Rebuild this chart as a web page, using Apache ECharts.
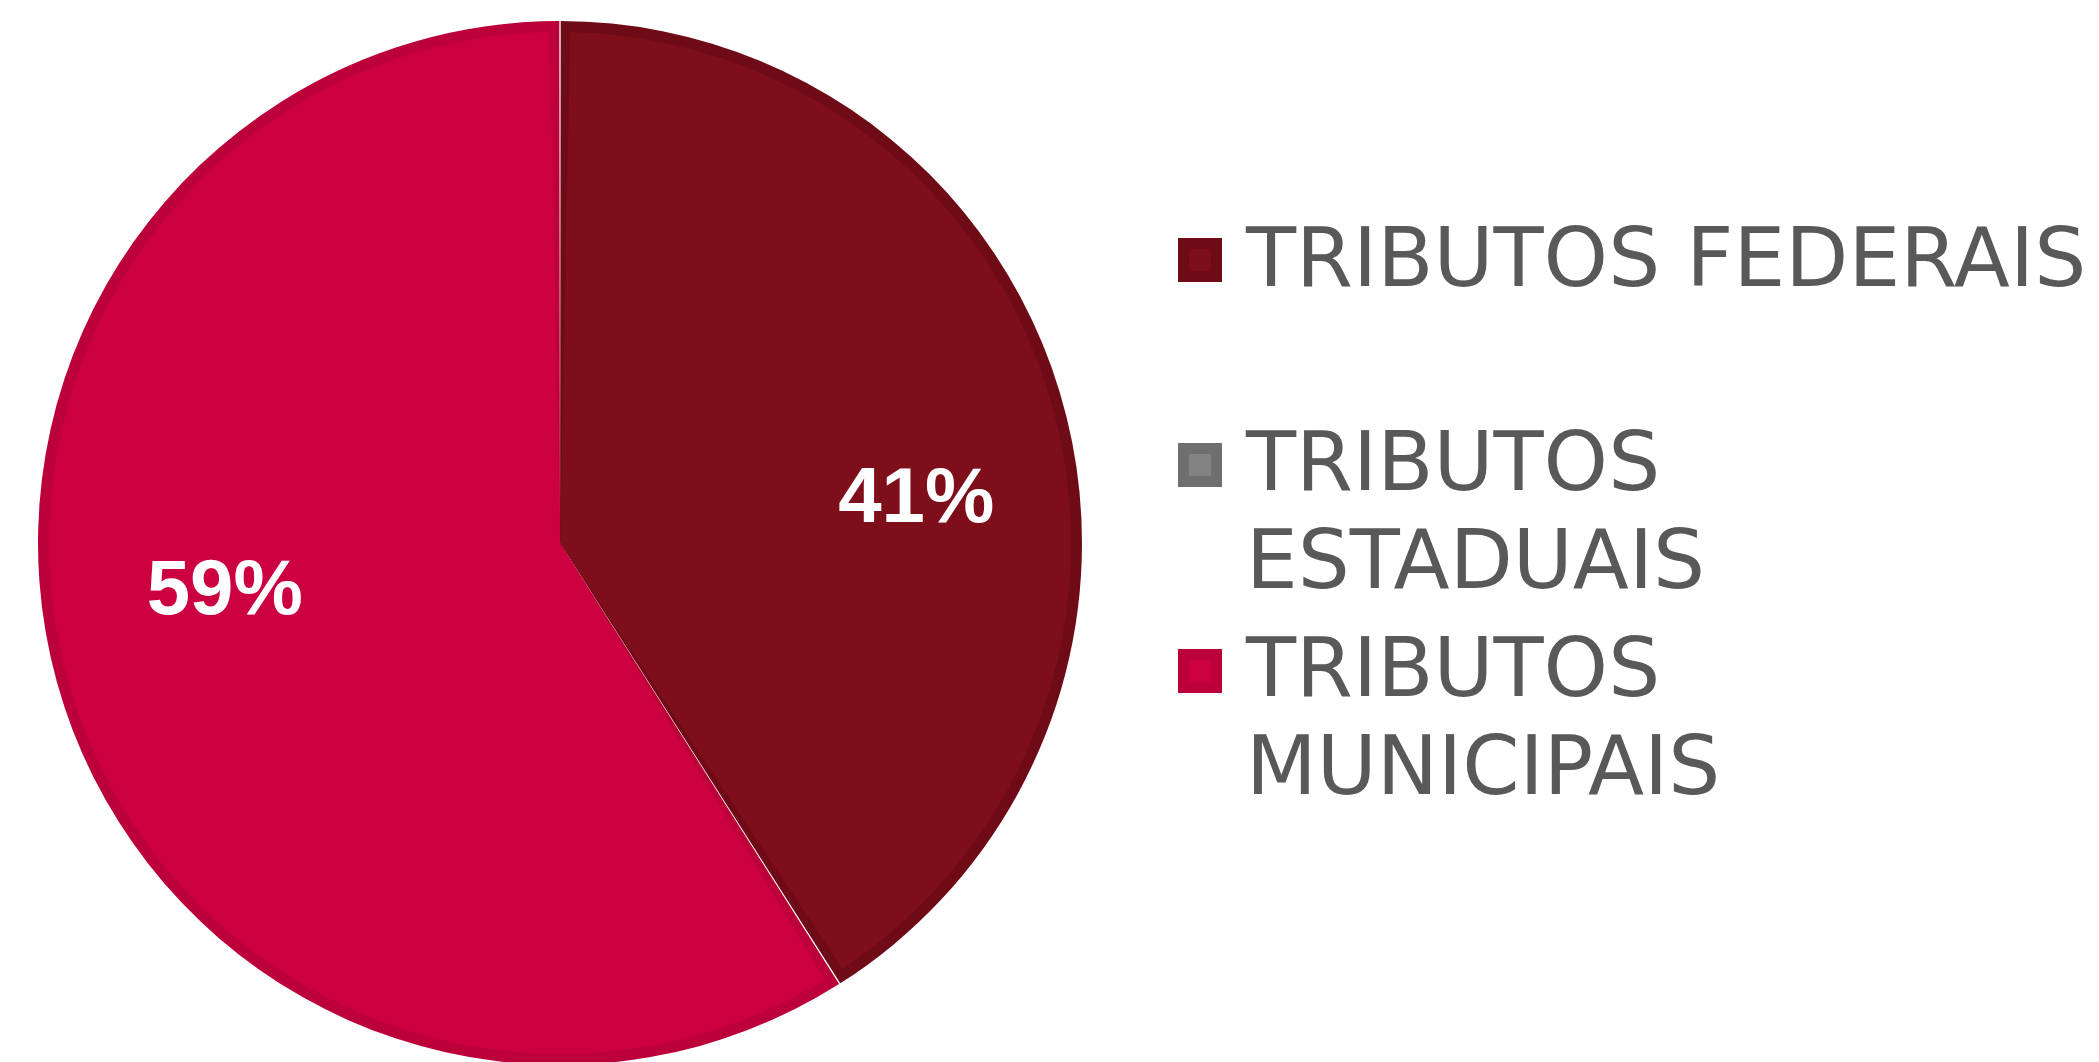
<!DOCTYPE html>
<html>
<head>
<meta charset="utf-8">
<title>Tributos</title>
<script src="https://cdn.jsdelivr.net/npm/echarts@6/dist/echarts.min.js"></script>
<style>
  html, body { margin: 0; padding: 0; background: #fff; }
  #chart { width: 2099px; height: 1062px; }
</style>
</head>
<body>
<div id="chart"></div>
<script>
// dados do gráfico
const categorias = ['TRIBUTOS FEDERAIS', 'TRIBUTOS ESTADUAIS', 'TRIBUTOS MUNICIPAIS'];
const valores = [41, 0, 59];
const rotulosLegenda = ['TRIBUTOS FEDERAIS', 'TRIBUTOS\nESTADUAIS', 'TRIBUTOS\nMUNICIPAIS'];

// cores: preenchimento e contorno de cada fatia
const coresFill = ['#7D0E1A', '#838383', '#CC0040'];
const coresBorda = ['#6F0B16', '#6F6F6F', '#BC0039'];

const CX = 560, CY = 543, R = 522, BORDA = 11;

const chart = echarts.init(document.getElementById('chart'));

// fatias com valor > 0 (a fatia zerada só existe para a legenda)
const idxVisiveis = valores.map((v, i) => i).filter(i => valores[i] > 0);

const labelOffsets = { 'TRIBUTOS FEDERAIS': [108, 30], 'TRIBUTOS MUNICIPAIS': [-87, -23] };

// legenda: quadrados e textos em componentes separados,
// para o quadrado ficar alinhado com a primeira linha do texto
const iconTops = [238, 443, 649];
const textTops = [216, 420, 626];

const legendIcons = categorias.map((nome, i) => ({
  data: [nome],
  left: 1178,
  top: iconTops[i],
  padding: 0,
  icon: 'rect',
  itemWidth: 33,
  itemHeight: 33,
  selectedMode: false,
  itemStyle: { color: coresFill[i], borderColor: coresBorda[i], borderWidth: BORDA, borderJoin: 'miter' },
  formatter: () => '',
  textStyle: { fontSize: 1 }
}));

const legendTexts = categorias.map((nome, i) => ({
  data: [nome],
  left: 1241,
  top: textTops[i],
  padding: 0,
  icon: 'none',
  itemWidth: 0,
  itemHeight: 0,
  selectedMode: false,
  formatter: () => rotulosLegenda[i],
  textStyle: {
    color: '#595959',
    fontFamily: 'DejaVu Sans',
    fontSize: 82,
    lineHeight: 98
  }
}));

const option = {
  animation: false,
  legend: legendIcons.concat(legendTexts),
  series: [
    {
      // contorno (camada de baixo)
      type: 'pie',
      silent: true,
      center: [CX, CY],
      radius: R,
      startAngle: 90,
      padAngle: 0.15,
      z: 1,
      label: { show: false },
      labelLine: { show: false },
      data: idxVisiveis.map(i => ({
        name: categorias[i], value: valores[i], itemStyle: { color: coresBorda[i] }
      }))
    },
    {
      // preenchimento
      type: 'pie',
      silent: true,
      center: [CX, CY],
      radius: R - BORDA,
      startAngle: 90,
      padAngle: 2.3,
      z: 2,
      label: {
        show: true,
        position: 'inside',
        formatter: p => p.percent + '%',
        color: '#fff',
        fontFamily: '"Liberation Sans", Arial, sans-serif',
        fontWeight: 'bold',
        fontSize: 78
      },
      labelLayout: p => {
        const off = labelOffsets[categorias[idxVisiveis[p.dataIndex]]] || [0, 0];
        return { dx: off[0], dy: off[1] };
      },
      labelLine: { show: false },
      data: idxVisiveis.map(i => ({
        name: categorias[i], value: valores[i], itemStyle: { color: coresFill[i] }
      }))
    },
    {
      // fatia zerada (estaduais)
      type: 'pie',
      silent: true,
      center: [CX, CY],
      radius: R,
      stillShowZeroSum: false,
      label: { show: false },
      labelLine: { show: false },
      data: categorias.map((c, i) => ({ name: c, value: valores[i] })).filter(d => d.value === 0)
    }
  ]
};

chart.setOption(option);
</script>
</body>
</html>
